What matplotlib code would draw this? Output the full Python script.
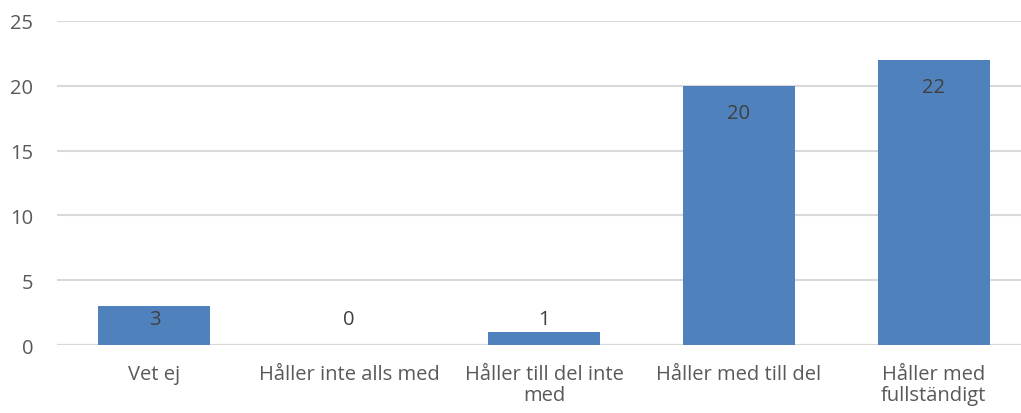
import matplotlib
matplotlib.use("Agg")
import matplotlib.pyplot as plt
import numpy as np

plt.rcParams['font.family'] = ['Open Sans', 'DejaVu Sans']

categories = ["Vet ej", "Håller inte alls med", "Håller till del inte\nmed",
              "Håller med till del", "Håller med\nfullständigt"]
values = [3, 0, 1, 20, 22]

TEXT = "#595959"
BAR = "#4F81BD"

fig = plt.figure(figsize=(10.21, 4.14), dpi=100)
ax = fig.add_axes([57 / 1021, 1 - 346 / 414, (1031 - 57) / 1021, (346 - 22) / 414])

x = np.arange(len(categories))
ax.bar(x, values, width=0.575, color=BAR, zorder=2)

# value labels: inside end, pushed to a minimum height for small bars
for xi, v in zip(x, values):
    ax.text(xi, max(v - 2.1, 2.0), str(v), ha="center", va="center",
            fontsize=14.5, color="#404040", zorder=3)

ax.set_xlim(-0.5, len(categories) - 0.5)
ax.set_ylim(0, 25)
ax.set_yticks(range(0, 26, 5))
ax.yaxis.grid(True, color="#D9D9D9", linewidth=1.5, zorder=0)
ax.set_axisbelow(True)
for s in ax.spines.values():
    s.set_visible(False)
ax.axhline(0, color="#D9D9D9", linewidth=1.5, zorder=1)

ax.set_xticks(x)
ax.set_xticklabels(categories, linespacing=1.05)
ax.tick_params(axis="both", length=0, labelsize=14.5, labelcolor=TEXT)
ax.tick_params(axis="y", pad=17)
ax.tick_params(axis="x", pad=14)

fig.savefig("out.png", dpi=100)
